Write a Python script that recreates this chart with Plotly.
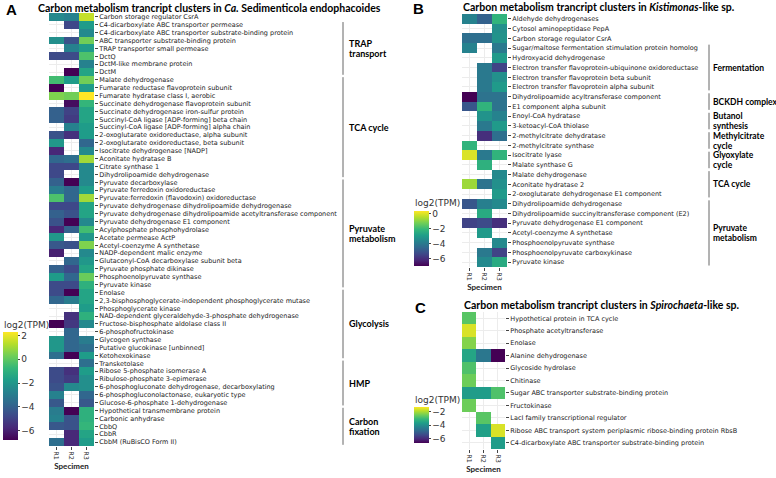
import plotly.graph_objects as go

W, H = 776, 478
def px(x): return x / W
def py(y): return 1 - y / H

specimens = ["R1", "R2", "R3"]

# ---------------- Panel A ----------------
labels_a = [
    "Carbon storage regulator CsrA",
    "C4-dicarboxylate ABC transporter permease",
    "C4-dicarboxylate ABC transporter substrate-binding protein",
    "ABC transporter substrate-binding protein",
    "TRAP transporter small permease",
    "DctQ",
    "DctM-like membrane protein",
    "DctM",
    "Malate dehydrogenase",
    "Fumarate reductase flavoprotein subunit",
    "Fumarate hydratase class I, aerobic",
    "Succinate dehydrogenase flavoprotein subunit",
    "Succinate dehydrogenase iron-sulfur protein",
    "Succinyl-CoA ligase [ADP-forming] beta chain",
    "Succinyl-CoA ligase [ADP-forming] alpha chain",
    "2-oxoglutarate oxidoreductase, alpha subunit",
    "2-oxoglutarate oxidoreductase, beta subunit",
    "Isocitrate dehydrogenase [NADP]",
    "Aconitate hydratase B",
    "Citrate synthase 1",
    "Dihydrolipoamide dehydrogenase",
    "Pyruvate decarboxylase",
    "Pyruvate ferredoxin oxidoreductase",
    "Pyruvate:ferredoxin (flavodoxin) oxidoreductase",
    "Pyruvate dehydrogenase dihydrolipoamide dehydrogenase",
    "Pyruvate dehydrogenase dihydrolipoamide acetyltransferase component",
    "Pyruvate dehydrogenase E1 component",
    "Acylphosphate phosphohydrolase",
    "Acetate permease ActP",
    "Acetyl-coenzyme A synthetase",
    "NADP-dependent malic enzyme",
    "Glutaconyl-CoA decarboxylase subunit beta",
    "Pyruvate phosphate dikinase",
    "Phosphoenolpyruvate synthase",
    "Pyruvate kinase",
    "Enolase",
    "2,3-bisphosphoglycerate-independent phosphoglycerate mutase",
    "Phosphoglycerate kinase",
    "NAD-dependent glyceraldehyde-3-phosphate dehydrogenase",
    "Fructose-bisphosphate aldolase class II",
    "6-phosphofructokinase",
    "Glycogen synthase",
    "Putative glucokinase [unbinned]",
    "Ketohexokinase",
    "Transketolase",
    "Ribose 5-phosphate isomerase A",
    "Ribulose-phosphate 3-epimerase",
    "6-phosphogluconate dehydrogenase, decarboxylating",
    "6-phosphogluconolactonase, eukaryotic type",
    "Glucose-6-phosphate 1-dehydrogenase",
    "Hypothetical transmembrane protein",
    "Carbonic anhydrase",
    "CbbQ",
    "CbbR",
    "CbbM (RuBisCO Form II)",
]
r1_a = [-2.5, None, None, -2.3, None, -4.7, None, None, -0.5, -6.8,
        0.5, None, -4.0, -4.0, None, -4.5, -2.0, -5.8, -3.8, -4.8,
        -4.8, -4.0, -3.0, -0.3, -4.8, -4.0, -4.5, -5.8, -2.0, -4.3,
        -6.0, None, -4.0, -1.8, -4.7, -4.7, -3.8, None, None, -6.8,
        None, -2.0, -2.0, -3.5, None, -4.7, -4.7, -4.5, -2.8, -4.3,
        -3.0, -2.8, -4.3, None, -3.5]
r2_a = [-2.8, -4.8, None, -4.5, -2.8, -4.7, None, -6.8, -1.8, None,
        0.3, -6.5, -5.0, -5.2, -2.8, -5.5, None, None, -3.5, -4.8,
        None, -6.8, -3.8, -3.8, -4.8, -4.5, -6.8, -4.0, None, -4.5,
        None, -3.8, -4.7, -3.8, -4.7, -6.8, -3.0, None, -5.5, -5.3,
        -3.8, -3.8, -3.8, -6.8, None, -5.5, -5.2, -2.5, None, None,
        -6.8, -4.5, -4.5, -5.8, -5.8]
r3_a = [1.5, -1.8, -2.5, 0.3, -1.8, -0.3, -2.8, -1.5, 0.3, -1.8,
        2.3, -0.8, -1.5, -1.5, -1.8, -1.8, -3.8, -2.5, 1.0, -2.5,
        -2.5, -2.5, -1.8, 1.0, -1.5, -1.5, -2.5, -0.5, -2.0, 0.5,
        -2.5, -2.0, -1.5, 0.2, -1.0, -1.5, -1.5, -1.8, -1.0, -2.5,
        None, -3.0, -3.5, -1.8, -3.5, -1.8, -2.3, -2.3, -3.8, -4.3,
        -1.0, -1.0, -0.8, -1.5, -1.8]
groups_a = [("TRAP|transport", 1, 7), ("TCA cycle", 8, 20),
            ("Pyruvate|metabolism", 21, 34), ("Glycolysis", 35, 43),
            ("HMP", 44, 49), ("Carbon|fixation", 50, 54)]

# ---------------- Panel B ----------------
labels_b = [
    "Aldehyde dehydrogenases",
    "Cytosol aminopeptidase PepA",
    "Carbon storage regulator CsrA",
    "Sugar/maltose fermentation stimulation protein homolog",
    "Hydroxyacid dehydrogenase",
    "Electron transfer flavoprotein-ubiquinone oxidoreductase",
    "Electron transfer flavoprotein beta subunit",
    "Electron transfer flavoprotein alpha subunit",
    "Dihydrolipoamide acyltransferase component",
    "E1 component alpha subunit",
    "Enoyl-CoA hydratase",
    "3-ketoacyl-CoA thiolase",
    "2-methylcitrate dehydratase",
    "2-methylcitrate synthase",
    "Isocitrate lyase",
    "Malate synthase G",
    "Malate dehydrogenase",
    "Aconitate hydratase 2",
    "2-oxoglutarate dehydrogenase E1 component",
    "Dihydrolipoamide dehydrogenase",
    "Dihydrolipoamide succinyltransferase component (E2)",
    "Pyruvate dehydrogenase E1 component",
    "Acetyl-coenzyme A synthetase",
    "Phosphoenolpyruvate synthase",
    "Phosphoenolpyruvate carboxykinase",
    "Pyruvate kinase",
]
r1_b = [-3.7, None, -4.3, -3.7, None, None, None, None, -7.0, -5.0,
        None, None, None, -2.2, 0.0, None, None, -0.7, None, -5.0,
        None, -5.5, None, None, None, None]
r2_b = [-4.7, None, -4.3, None, None, -4.0, -4.0, -4.0, -4.2, -2.2,
        -3.2, -4.0, -6.0, None, -4.0, -2.3, None, -4.2, None, -3.8,
        -2.5, -5.3, -3.0, None, -4.0, -3.5]
r3_b = [-2.2, -3.3, -3.2, -4.0, -3.0, -5.5, -3.3, -3.0, -4.2, -4.2,
        -3.7, -3.0, -4.3, None, -2.2, None, -3.5, -3.3, -3.0, -3.5,
        None, -6.0, None, -3.5, -5.5, -2.5]
groups_b = [("Fermentation", 3, 7), ("BCKDH complex", 8, 9),
            ("Butanol|synthesis", 10, 11), ("Methylcitrate|cycle", 12, 13),
            ("Glyoxylate|cycle", 14, 15), ("TCA cycle", 16, 18),
            ("Pyruvate|metabolism", 19, 25)]

# ---------------- Panel C ----------------
labels_c = [
    "Hypothetical protein in TCA cycle",
    "Phosphate acetyltransferase",
    "Enolase",
    "Alanine dehydrogenase",
    "Glycoside hydrolase",
    "Chitinase",
    "Sugar ABC transporter substrate-binding protein",
    "Fructokinase",
    "LacI family transcriptional regulator",
    "Ribose ABC transport system periplasmic ribose-binding protein RbsB",
    "C4-dicarboxylate ABC transporter substrate-binding protein",
]
r1_c = [-2.7, -1.6, -2.3, -3.5, -2.8, -2.5, -3.7, -2.5, None, None, None]
r2_c = [None, None, None, -4.5, None, None, -3.7, None, -2.7, -3.6, None]
r3_c = [None, None, None, -6.9, None, None, -2.8, None, None, -1.6, -3.7]

fig = go.Figure()

FONT_LBL = dict(family="DejaVu Sans", size=6.5, color="#222222")
FONT_TTL = dict(family="Lato", size=10.5, color="black")

def add_panel(idx, labels, r1, r2, r3, zmin, zmax, cb_x, cb_top, cb_len, tickvals):
    z = [[a, b, c] for a, b, c in zip(r1, r2, r3)]
    sfx = "" if idx == 1 else str(idx)
    fig.add_trace(go.Heatmap(
        z=z, x=specimens, y=labels, colorscale="Viridis", zmin=zmin, zmax=zmax,
        xaxis="x" + sfx, yaxis="y" + sfx, hoverongaps=False,
        colorbar=dict(x=px(cb_x), xanchor="left", y=py(cb_top), yanchor="top",
                      len=cb_len, lenmode="pixels", thickness=15, thicknessmode="pixels",
                      outlinewidth=0, xpad=0, ypad=0, tickvals=tickvals,
                      ticks="outside", ticklen=2, tickcolor="#444",
                      tickfont=dict(family="DejaVu Sans", size=9, color="#333")),
    ))

add_panel(1, labels_a, r1_a, r2_a, r3_a, -6.8, 2.3, 3, 332, 108, [2, 0, -2, -4, -6])
add_panel(2, labels_b, r1_b, r2_b, r3_b, -7.0, 0.4, 414, 211, 55, [0, -2, -4, -6])
add_panel(3, labels_c, r1_c, r2_c, r3_c, -6.6, -1.3, 414, 407, 36, [-2, -4, -6])

def xax(domain, anchor):
    return dict(domain=domain, anchor=anchor, tickangle=90, ticks="outside", ticklen=3,
                tickcolor="#444", showgrid=True, gridcolor="#ececec", zeroline=False,
                tickfont=dict(family="DejaVu Sans", size=6.5, color="#333"),
                title=dict(text="<b>Specimen</b>", standoff=4,
                           font=dict(family="Lato", size=8, color="#222")),
                showline=False)

def yax(domain, anchor):
    return dict(domain=domain, anchor=anchor, side="right", autorange="reversed",
                ticks="outside", ticklen=3, tickcolor="#444", showgrid=True,
                gridcolor="#ececec", zeroline=False, tickfont=FONT_LBL, showline=False,
                dtick=1)

fig.update_layout(
    width=W, height=H, margin=dict(l=0, r=0, t=0, b=0),
    paper_bgcolor="white", plot_bgcolor="white", showlegend=False,
    xaxis=xax([px(49), px(94)], "y"), yaxis=yax([py(446), py(13)], "x"),
    xaxis2=xax([px(462), px(507)], "y2"), yaxis2=yax([py(267), py(14)], "x2"),
    xaxis3=xax([px(462), px(505)], "y3"), yaxis3=yax([py(449), py(312)], "x3"),
)

ann = []
shapes = []
for letter, x, y in [("A", 4, 9), ("B", 411, 8), ("C", 413, 307)]:
    ann.append(dict(text="<b>" + letter + "</b>", x=px(x), y=py(y), xref="paper", yref="paper",
                    xanchor="left", yanchor="middle", showarrow=False,
                    font=dict(family="Liberation Sans", size=15, color="black")))
titles = [
    ("<b>Carbon metabolism trancript clusters in <i>Ca.</i> Sedimenticola endophacoides</b>", 36, 8),
    ("<b>Carbon metabolism trancript clusters in <i>Kistimonas</i>-like sp.</b>", 461, 7),
    ("<b>Carbon metabolism trancript clusters in <i>Spirochaeta</i>-like sp.</b>", 462, 305),
]
for t, x, y in titles:
    ann.append(dict(text=t, x=px(x), y=py(y), xref="paper", yref="paper", xanchor="left",
                    yanchor="middle", showarrow=False, font=FONT_TTL))
for x, y in [(2, 325), (413, 203), (413, 400)]:
    ann.append(dict(text="log2(TPM)", x=px(x), y=py(y), xref="paper", yref="paper",
                    xanchor="left", yanchor="middle", showarrow=False,
                    font=dict(family="DejaVu Sans", size=9, color="#333")))

def add_groups(groups, yref, line_x, text_x, fsize, spacing):
    for name, s, e in groups:
        shapes.append(dict(type="line", xref="paper", yref=yref, x0=px(line_x), x1=px(line_x),
                           y0=s - 0.35, y1=e + 0.35, line=dict(color="#666", width=1)))
        parts = name.split("|")
        n = len(parts)
        for i, p in enumerate(parts):
            shift = ((n - 1) / 2 - i) * spacing
            ann.append(dict(text="<b>" + p + "</b>", x=px(text_x), y=(s + e) / 2, xref="paper",
                            yref=yref, xanchor="left", yanchor="middle", align="left",
                            yshift=shift, showarrow=False,
                            font=dict(family="Lato", size=fsize, color="black")))

add_groups(groups_a, "y", 343, 347, 9, 10.5)
add_groups(groups_b, "y2", 709, 711, 8.5, 10)

fig.update_layout(annotations=ann, shapes=shapes)
fig.write_html("out.html", config={"displayModeBar": False},
               post_script="document.body.style.margin='0';document.body.style.overflow='hidden';")
